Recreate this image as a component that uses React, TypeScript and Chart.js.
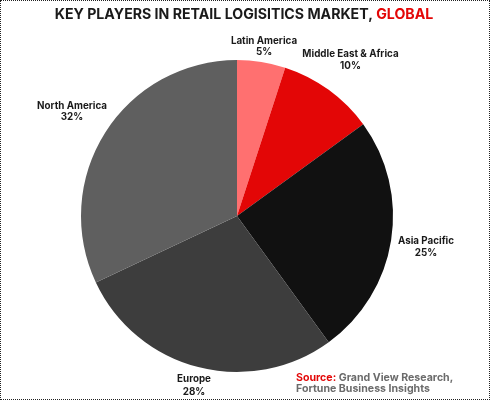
import React, { useEffect, useRef } from "react";
import { Chart, registerables } from "chart.js";

Chart.register(...registerables);

const categories = ["Latin America", "Middle East & Africa", "Asia Pacific", "Europe", "North America"];
const shares = [5, 10, 25, 28, 32];
const sliceColors = ["#ff7070", "#e30606", "#111111", "#3d3d3d", "#5f5f5f"];
const titleDark = "KEY PLAYERS IN RETAIL LOGISITICS MARKET, ";
const titleRed = "GLOBAL";
const sourceLead = "Source:";
const sourceLines = [" Grand View Research,", "Fortune Business Insights"];
const labelCentres = [
  [264, 46.5, 11],
  [350.5, 60, 12],
  [426, 247, 12],
  [194, 385.5, 13],
  [72, 112, 11],
];

const FONT = '"Inter", "Open Sans", sans-serif';

const textPlugin = {
  id: "chartText",
  afterDraw(chart: any) {
    const { ctx } = chart;
    ctx.save();
    ctx.textBaseline = "middle";
    ctx.textAlign = "left";

    ctx.font = `700 14.15px ${FONT}`;
    const darkWidth = ctx.measureText(titleDark).width;
    const redWidth = ctx.measureText(titleRed).width;
    const titleX = 244 - (darkWidth + redWidth) / 2;
    ctx.fillStyle = "#1a1a1a";
    ctx.fillText(titleDark, titleX, 15);
    ctx.fillStyle = "#e30606";
    ctx.fillText(titleRed, titleX + darkWidth, 15);

    ctx.textAlign = "center";
    ctx.font = `700 9.8px ${FONT}`;
    ctx.fillStyle = "#1a1a1a";
    categories.forEach((name, i) => {
      const [x, y, gap] = labelCentres[i];
      ctx.fillText(name, x, y - gap / 2);
      ctx.fillText(`${shares[i]}%`, x, y + gap / 2);
    });

    ctx.textAlign = "left";
    ctx.font = `700 10.6px ${FONT}`;
    ctx.fillStyle = "#e30606";
    ctx.fillText(sourceLead, 296, 378);
    const leadWidth = ctx.measureText(sourceLead).width;
    ctx.fillStyle = "#6b6b6b";
    ctx.fillText(sourceLines[0], 296 + leadWidth, 378);
    ctx.fillText(sourceLines[1], 296, 389);
    ctx.restore();
  },
};

export default function App() {
  const canvasRef = useRef<HTMLCanvasElement>(null);

  useEffect(() => {
    document.body.style.margin = "0";
    const chart = new Chart(canvasRef.current!, {
      type: "pie",
      data: {
        labels: categories,
        datasets: [{ data: shares, backgroundColor: sliceColors, borderWidth: 0 }],
      },
      options: {
        animation: false,
        responsive: false,
        devicePixelRatio: 1,
        layout: { padding: { left: 81, right: 97, top: 60, bottom: 28 } },
        plugins: { legend: { display: false }, tooltip: { enabled: false } },
      },
      plugins: [textPlugin],
    });
    return () => chart.destroy();
  }, []);

  return (
    <div style={{ position: "relative", width: 490, height: 400, boxSizing: "border-box", border: "1px dotted #222", background: "#fff", overflow: "hidden" }}>
      <canvas ref={canvasRef} width={490} height={400} style={{ position: "absolute", left: -1, top: -1 }} />
    </div>
  );
}
